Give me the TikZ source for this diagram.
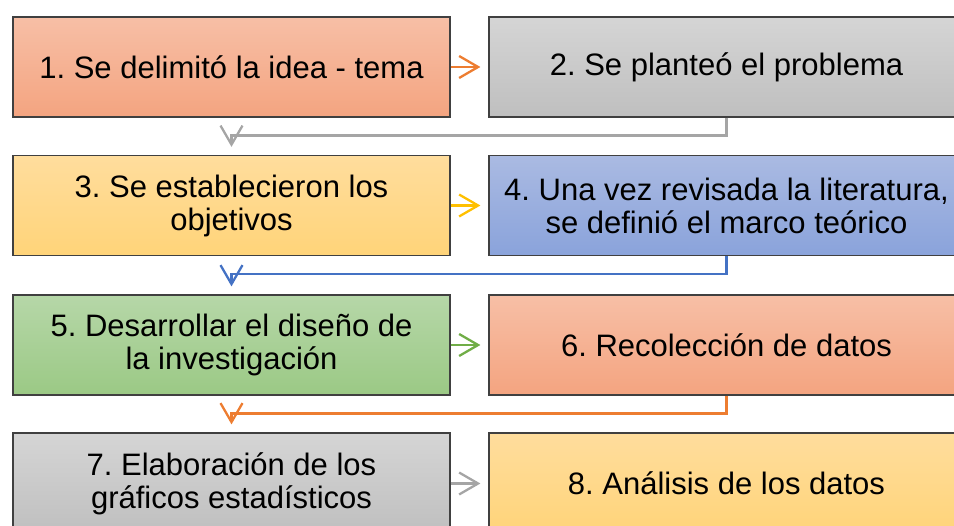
\documentclass[tikz,border=0pt]{standalone}
\usepackage{fontspec}
\setmainfont{Liberation Sans}
\usetikzlibrary{arrows.meta}
\definecolor{salT}{HTML}{F7BFA6}\definecolor{salB}{HTML}{F4A480}
\definecolor{gryT}{HTML}{D5D5D5}\definecolor{gryB}{HTML}{BFBFBF}
\definecolor{yelT}{HTML}{FFDD9D}\definecolor{yelB}{HTML}{FFD479}
\definecolor{bluT}{HTML}{AABAE2}\definecolor{bluB}{HTML}{8AA3DB}
\definecolor{grnT}{HTML}{B6D7A8}\definecolor{grnB}{HTML}{9BC985}
\definecolor{cOrange}{HTML}{ED7D31}
\definecolor{cYellow}{HTML}{FFC000}
\definecolor{cGreen}{HTML}{70AD47}
\definecolor{cGray}{HTML}{A5A5A5}
\definecolor{cBlue}{HTML}{4472C4}
\tikzset{
  stepbox/.style={draw=black!75, line width=1.2pt, rectangle, align=center,
    inner sep=0pt, font=\fontsize{31}{33}\selectfont},
  leftbox/.style={stepbox, minimum width=437pt, minimum height=100pt},
  rightbox/.style={stepbox, minimum width=475pt, minimum height=100pt},
  salmon/.style={top color=salT, bottom color=salB},
  grey/.style={top color=gryT, bottom color=gryB},
  yell/.style={top color=yelT, bottom color=yelB},
  bluish/.style={top color=bluT, bottom color=bluB},
  greenish/.style={top color=grnT, bottom color=grnB},
  conn/.style={line width=2.3pt, -{Straight Barb[length=19pt,width=22pt]}, shorten >=8pt},
}
\begin{document}
\frenchspacing
\begin{tikzpicture}[x=1pt,y=-1pt]
\useasboundingbox (0,0) rectangle (954,526);
\begin{scope}
\clip (0,0) rectangle (954,526);
\node[leftbox,salmon] (b1) at (231.5,67) {1. Se delimitó la idea - tema};
\node[rightbox,grey] (b2) at (726.5,67) {2. Se planteó el problema};
\node[leftbox,yell] (b3) at (231.5,205.5) {3. Se establecieron los\\objetivos};
\node[rightbox,bluish] (b4) at (726.5,205.5) {4. Una vez revisada la literatura,\\se definió el marco teórico};
\node[leftbox,greenish] (b5) at (231.5,345) {5. Desarrollar el diseño de\\la investigación};
\node[rightbox,salmon] (b6) at (726.5,345) {6. Recolección de datos};
\node[leftbox,grey,minimum height=101pt] (b7) at (231.5,483.5) {7. Elaboración de los\\gráficos estadísticos};
\node[rightbox,yell,minimum height=101pt] (b8) at (726.5,483.5) {8. Análisis de los datos};

\draw[conn,cOrange] (b1.east) -- (b2.west);
\draw[conn,cYellow] (b3.east) -- (b4.west);
\draw[conn,cGreen] (b5.east) -- (b6.west);
\draw[conn,cGray] (b7.east) -- (b8.west);

\draw[conn,cGray] (b2.south) -- ++(0,18) -| (b3.north);
\draw[conn,cBlue] (b4.south) -- ++(0,18) -| (b5.north);
\draw[conn,cOrange] (b6.south) -- ++(0,18) -| (b7.north);
\end{scope}
\end{tikzpicture}
\end{document}
